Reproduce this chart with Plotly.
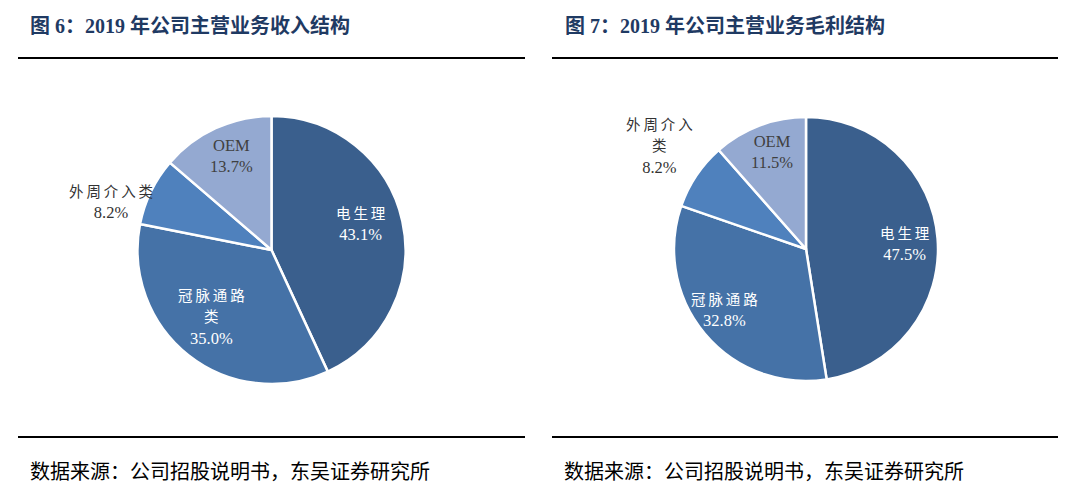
import math
import plotly.graph_objects as go

W, H = 1074, 498          # browser window
OFF = 8                   # default page body margin
FW, FH = W - OFF, H - OFF  # figure size so that it fits the window exactly

categories = ["电生理", "冠脉通路类", "外周介入类", "OEM"]
revenue_share = [43.1, 35.0, 8.2, 13.7]
gross_profit_share = [47.5, 32.8, 8.2, 11.5]

revenue_labels = [["电生理"], ["冠脉通路", "类"], ["外周介入类"], ["OEM"]]
profit_labels = [["电生理"], ["冠脉通路"], ["外周介入", "类"], ["OEM"]]

title_left = "图 6：2019 年公司主营业务收入结构"
title_right = "图 7：2019 年公司主营业务毛利结构"
source_text = "数据来源：公司招股说明书，东吴证券研究所"

colors = ["#3A5F8D", "#4572A7", "#4F81BD", "#94A9D1"]
label_colors = ["#FFFFFF", "#FFFFFF", "#333333", "#404040"]


def fx(x):
    return (x - OFF) / FW


def fy(y):
    return 1 - (y - OFF) / FH


# pie geometry (page pixels): centre x, centre y (from top), radius; label radius factor & angle tweak
pies = [
    dict(values=revenue_share, labels=revenue_labels, cx=271.5, cy=250, r=134,
         rad=[0.70, 0.668, 1.25, 0.764], dth=[-4.6, 4.3, -9.0, 1.4]),
    dict(values=gross_profit_share, labels=profit_labels, cx=806, cy=249, r=132,
         rad=[0.75, 0.764, 1.36, 0.779], dth=[1.0, 3.5, 1.6, 1.4]),
]

fig = go.Figure()
annotations = []
LABEL_FONT = "Liberation Serif, Noto Sans CJK SC, serif"
THIN = "\u2009"


def cjk_line(s):
    if s.isascii():
        return s
    spaced = THIN.join(list(s))
    return f"<span style='font-family:Noto Sans CJK SC;font-size:14.5px'>{spaced}</span>"


for p in pies:
    r = p["r"]
    fig.add_trace(go.Pie(
        labels=categories, values=p["values"], sort=False, direction="clockwise",
        rotation=0,
        domain=dict(x=[fx(p["cx"] - r), fx(p["cx"] + r)], y=[fy(p["cy"] + r), fy(p["cy"] - r)]),
        marker=dict(colors=colors, line=dict(color="white", width=2.5)),
        textinfo="none", hoverinfo="label+percent", showlegend=False,
    ))
    total = sum(p["values"])
    cum = 0.0
    for i, v in enumerate(p["values"]):
        mid = (cum + v / 2) / total * 2 * math.pi + math.radians(p["dth"][i])
        cum += v
        d = p["rad"][i] * r
        px = p["cx"] + d * math.sin(mid)
        py = p["cy"] - d * math.cos(mid)
        lines = [cjk_line(s) for s in p["labels"][i]] + [f"{v:.1f}%"]
        annotations.append(dict(
            x=fx(px), y=fy(py), xref="paper", yref="paper",
            text="<br>".join(lines), showarrow=False,
            xanchor="center", yanchor="middle", align="center",
            font=dict(family=LABEL_FONT, size=16.5, color=label_colors[i]),
        ))


def title_html(t):
    head, tail = t.split("：", 1)
    return f"<b>{head}<span style='font-family:Noto Sans CJK SC'>：</span>{tail}</b>"


TITLE_FONT = dict(family="Liberation Serif, Noto Sans CJK SC, serif", size=20, color="#1F3A63")
for tx, tt in [(28, title_left), (563, title_right)]:
    annotations.append(dict(x=fx(tx), y=fy(25), xref="paper", yref="paper", text=title_html(tt),
                            showarrow=False, xanchor="left", yanchor="middle", font=TITLE_FONT))
SRC_FONT = dict(family="Noto Sans CJK SC, sans-serif", size=20, color="#000000")
for sx in [28, 562]:
    annotations.append(dict(x=fx(sx), y=fy(470), xref="paper", yref="paper", text=source_text,
                            showarrow=False, xanchor="left", yanchor="middle", font=SRC_FONT))

shapes = []
for (xa, xb) in [(18, 525), (552, 1058)]:
    for yy in [58, 437]:
        shapes.append(dict(type="line", xref="paper", yref="paper",
                           x0=fx(xa), x1=fx(xb), y0=fy(yy), y1=fy(yy),
                           line=dict(color="black", width=2)))

fig.update_layout(
    width=FW, height=FH, margin=dict(l=0, r=0, t=0, b=0),
    paper_bgcolor="white", plot_bgcolor="white",
    annotations=annotations, shapes=shapes,
)

fig.write_html("out.html")
